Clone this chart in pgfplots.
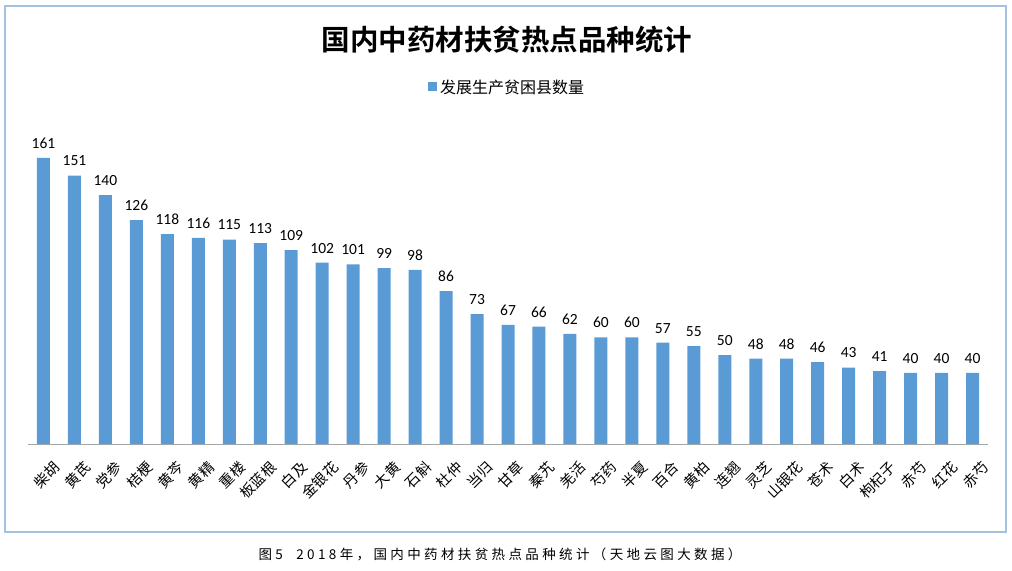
\documentclass[border=0pt]{standalone}
\usepackage{fontspec}
\usepackage{pgfplots}
\pgfplotsset{compat=1.18}
\setmainfont{Carlito}
\newfontfamily\cjk{Noto Sans CJK SC}
\newfontfamily\cjkb{Noto Sans CJK SC Bold}
\newfontfamily\cjkwide[LetterSpace=25]{Noto Sans CJK SC}
\definecolor{barblue}{RGB}{91,155,213}
\definecolor{framebl}{RGB}{163,194,224}
\begin{document}
\begin{tikzpicture}
\path (0,0) rectangle (1012bp,-571bp);
\draw[framebl, line width=1.5bp] (5bp,-6bp) rectangle (1006bp,-532bp);
\node[font=\cjkb\fontsize{28.5bp}{30bp}\selectfont] at (507bp,-40bp) {国内中药材扶贫热点品种统计};
\fill[barblue] (428bp,-82bp) rectangle (437bp,-91bp);
\node[anchor=west, font=\cjk\fontsize{16bp}{17bp}\selectfont, inner sep=0pt] at (440bp,-87bp) {发展生产贫困县数量};
\begin{axis}[
    at={(28bp,-444bp)}, anchor=south west,
    scale only axis,
    width=960bp, height=320bp,
    xmin=-0.5, xmax=30.5,
    ymin=0, ymax=180,
    axis y line=none,
    axis x line*=bottom,
    x axis line style={gray!70, line width=0.8bp, -},
    xtick=data,
    major tick length=0pt,
    xticklabels={柴胡,黄芪,党参,桔梗,黄芩,黄精,重楼,板蓝根,白及,金银花,丹参,大黄,石斛,杜仲,当归,甘草,秦艽,羌活,芍药,半夏,百合,黄柏,连翘,灵芝,山银花,苍术,白术,枸杞子,赤芍,红花,赤芍},
    xticklabel style={font=\cjk\fontsize{14.5bp}{15bp}\selectfont, rotate=45, anchor=east, inner sep=0pt, xshift=-5bp, yshift=-24bp},
    ybar, bar width=13bp,
    nodes near coords,
    /pgf/number format/assume math mode=true,
    every node near coord/.append style={font=\fontsize{15.5bp}{16bp}\selectfont, black, yshift=6bp},
    clip=false,
]
\addplot[fill=barblue, draw=none] coordinates {
(0,161)(1,151)(2,140)(3,126)(4,118)(5,116)(6,115)(7,113)(8,109)(9,102)
(10,101)(11,99)(12,98)(13,86)(14,73)(15,67)(16,66)(17,62)(18,60)(19,60)
(20,57)(21,55)(22,50)(23,48)(24,48)(25,46)(26,43)(27,41)(28,40)(29,40)(30,40)
};
\end{axis}
\node[font=\cjkwide\fontsize{13.5bp}{14bp}\selectfont] at (500bp,-554bp) {图5\quad 2018年，国内中药材扶贫热点品种统计（天地云图大数据）};
\pgfresetboundingbox
\path (0,0) rectangle (1012bp,-571bp);
\end{tikzpicture}
\end{document}
